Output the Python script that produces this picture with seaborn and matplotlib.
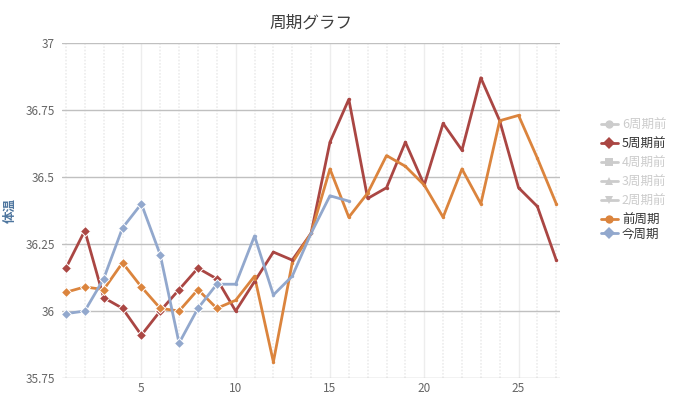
import matplotlib.pyplot as plt
import pandas as pd
import seaborn as sns
from matplotlib.lines import Line2D

# values
days = list(range(1, 28))
prev5 = [36.16, 36.30, 36.05, 36.01, 35.91, 36.00, 36.08, 36.16, 36.12, 36.00,
         36.11, 36.22, 36.19, 36.29, 36.63, 36.79, 36.42, 36.46, 36.63, 36.47,
         36.70, 36.60, 36.87, 36.71, 36.46, 36.39, 36.19]
prev1 = [36.07, 36.09, 36.08, 36.18, 36.09, 36.01, 36.00, 36.08, 36.01, 36.04,
         36.13, 35.81, 36.18, 36.29, 36.53, 36.35, 36.44, 36.58, 36.54, 36.47,
         36.35, 36.53, 36.40, 36.71, 36.73, 36.57, 36.40]
current = [35.99, 36.00, 36.12, 36.31, 36.40, 36.21, 35.88, 36.01, 36.10, 36.10,
           36.28, 36.06, 36.13, 36.29, 36.43, 36.41]

series_names = ["6周期前", "5周期前", "4周期前", "3周期前", "2周期前", "前周期", "今周期"]
legend_markers = ["o", "D", "s", "^", "v", "o", "D"]
hidden = ["6周期前", "4周期前", "3周期前", "2周期前"]
palette = {"5周期前": "#AA4643", "前周期": "#DB843D", "今周期": "#92A8CD"}
y_ticks = [35.75, 36, 36.25, 36.5, 36.75, 37]
y_labels = ["35.75", "36", "36.25", "36.5", "36.75", "37"]


def build_frame() -> pd.DataFrame:
    parts = []
    for name, vals in [("5周期前", prev5), ("前周期", prev1), ("今周期", current)]:
        parts.append(pd.DataFrame({"day": days[:len(vals)], "temp": vals, "series": name}))
    return pd.concat(parts, ignore_index=True)


def main() -> None:
    sns.set_theme(style="white")
    plt.rcParams["font.family"] = ["Noto Sans CJK JP", "DejaVu Sans"]

    df = build_frame()
    fig = plt.figure(figsize=(6.78, 3.99), dpi=100)
    ax = fig.add_axes([0.0914, 0.0526, 0.7346, 0.8396])

    for name in ["5周期前", "前周期", "今周期"]:
        sub = df[df["series"] == name]
        sns.lineplot(data=sub, x="day", y="temp", color=palette[name], lw=2.0,
                     marker="D", markersize=5.5, markeredgecolor="white",
                     markeredgewidth=0.7, markevery=list(range(min(9, len(sub)))),
                     ax=ax, legend=False, zorder=3)
        sns.scatterplot(data=sub.iloc[9:], x="day", y="temp", color=palette[name],
                        s=6, linewidth=0, ax=ax, legend=False, zorder=4)

    ax.set_xlim(0.79, 27.2)
    ax.set_ylim(35.75, 37)
    ax.set_yticks(y_ticks)
    ax.set_yticklabels(y_labels)
    ax.set_xticks([5, 10, 15, 20, 25])
    ax.set_xticks(days, minor=True)

    ax.yaxis.grid(True, color="#C0C0C0", lw=1)
    ax.xaxis.grid(True, which="minor", color="#ECECEC", lw=1.2, ls=(0, (1, 1)))
    ax.xaxis.grid(True, which="major", color="#EDEDED", lw=1)
    ax.set_axisbelow(True)
    for sp in ax.spines.values():
        sp.set_visible(False)
    ax.tick_params(axis="both", which="both", length=0, labelsize=8.5, colors="#666666")
    ax.tick_params(axis="y", pad=5)
    ax.tick_params(axis="x", pad=3)

    ax.set_xlabel("")
    ax.set_ylabel("体温", color="#4D759E", fontsize=9, fontweight="bold")
    ax.yaxis.set_label_coords(-0.09, 0.5)
    ax.set_title("周期グラフ", color="#3E3E3E", fontsize=12, pad=11)

    handles = []
    for name, mk in zip(series_names, legend_markers):
        col = "#CCCCCC" if name in hidden else palette[name]
        handles.append(Line2D([0], [0], color=col, lw=2, marker=mk, markersize=6,
                              markeredgecolor=col, markeredgewidth=0))

    common = dict(frameon=False, fontsize=9, handlelength=1.4, handletextpad=0.3,
                  borderpad=0, borderaxespad=0, labelspacing=0.48, loc="upper left")
    leg1 = fig.legend(handles[:6], series_names[:6], bbox_to_anchor=(0.886, 0.703), **common)
    leg2 = fig.legend(handles[6:], series_names[6:], bbox_to_anchor=(0.886, 0.43), **common)
    for leg in (leg1, leg2):
        for txt in leg.get_texts():
            txt.set_color("#CCCCCC" if txt.get_text() in hidden else "#333333")

    fig.savefig("out.png", dpi=100)
    plt.close(fig)


if __name__ == "__main__":
    main()
